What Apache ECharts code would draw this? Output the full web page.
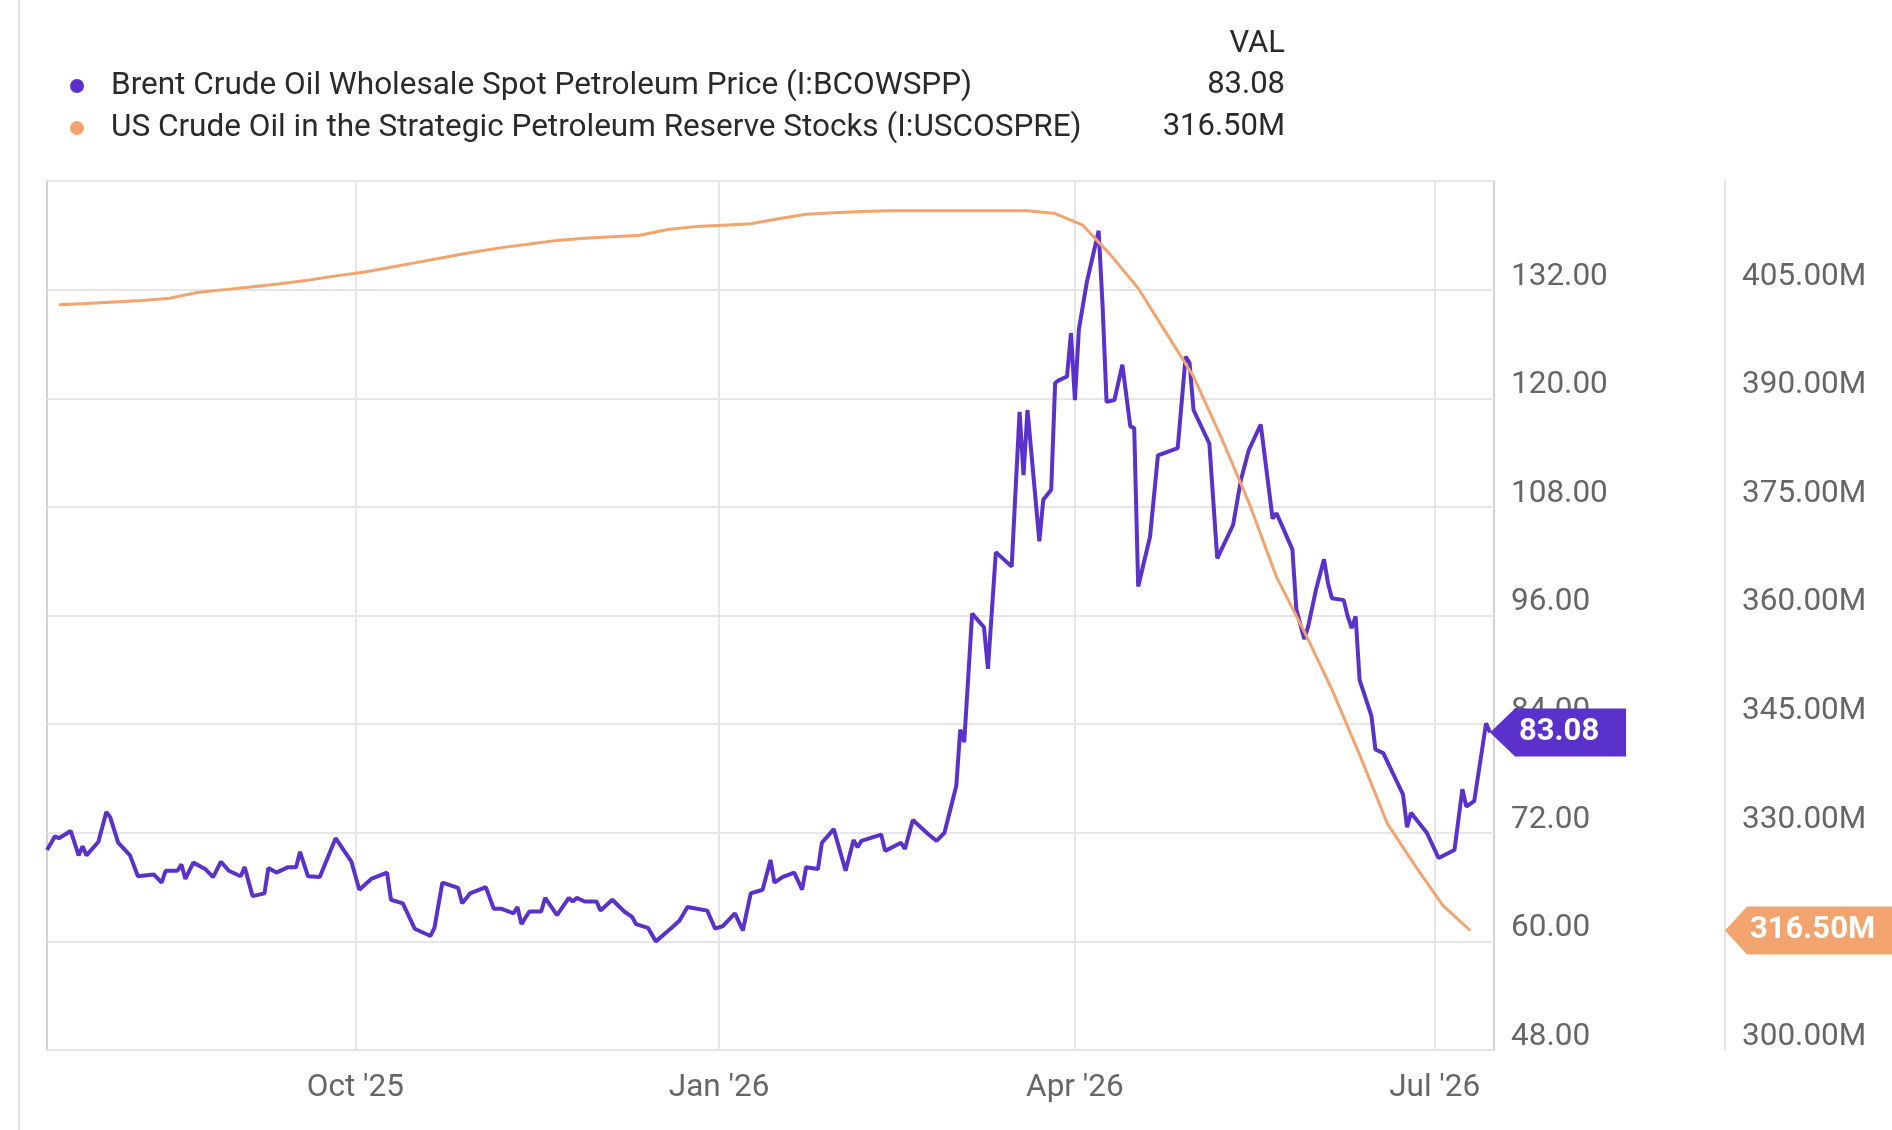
<!DOCTYPE html>
<html>
<head>
<meta charset="utf-8">
<title>Brent vs SPR</title>
<script src="https://cdn.jsdelivr.net/npm/echarts@6/dist/echarts.min.js"></script>
<style>
  html, body { margin: 0; padding: 0; background: #fff; }
  #chart { width: 1892px; height: 1130px; }
</style>
</head>
<body>
<div id="chart"></div>
<script>
// Brent daily spot price (USD)
var brentDates = [
  '2025-07-15', '2025-07-17', '2025-07-18', '2025-07-21', '2025-07-23', '2025-07-24', '2025-07-25', '2025-07-28',
  '2025-07-30', '2025-07-31', '2025-08-02', '2025-08-05', '2025-08-07', '2025-08-11', '2025-08-13', '2025-08-14',
  '2025-08-17', '2025-08-18', '2025-08-19', '2025-08-21', '2025-08-24', '2025-08-26', '2025-08-28', '2025-08-30',
  '2025-09-02', '2025-09-03', '2025-09-05', '2025-09-08', '2025-09-09', '2025-09-11', '2025-09-14', '2025-09-16',
  '2025-09-17', '2025-09-19', '2025-09-22', '2025-09-26', '2025-09-30', '2025-10-02', '2025-10-05', '2025-10-09',
  '2025-10-10', '2025-10-13', '2025-10-16', '2025-10-20', '2025-10-21', '2025-10-23', '2025-10-27', '2025-10-28',
  '2025-10-30', '2025-11-03', '2025-11-05', '2025-11-07', '2025-11-10', '2025-11-11', '2025-11-12', '2025-11-14',
  '2025-11-17', '2025-11-18', '2025-11-21', '2025-11-24', '2025-11-25', '2025-11-26', '2025-11-28', '2025-12-01',
  '2025-12-02', '2025-12-05', '2025-12-08', '2025-12-10', '2025-12-11', '2025-12-14', '2025-12-16', '2025-12-20',
  '2025-12-22', '2025-12-24', '2025-12-29', '2025-12-31', '2026-01-02', '2026-01-05', '2026-01-07', '2026-01-09',
  '2026-01-12', '2026-01-14', '2026-01-15', '2026-01-17', '2026-01-20', '2026-01-22', '2026-01-23', '2026-01-26',
  '2026-01-27', '2026-01-30', '2026-02-02', '2026-02-04', '2026-02-05', '2026-02-06', '2026-02-11', '2026-02-12',
  '2026-02-16', '2026-02-17', '2026-02-19', '2026-02-23', '2026-02-25', '2026-02-27', '2026-03-02', '2026-03-03',
  '2026-03-04', '2026-03-06', '2026-03-09', '2026-03-10', '2026-03-12', '2026-03-16', '2026-03-18', '2026-03-19',
  '2026-03-20', '2026-03-23', '2026-03-24', '2026-03-26', '2026-03-27', '2026-03-28', '2026-03-30', '2026-03-31',
  '2026-04-01', '2026-04-02', '2026-04-04', '2026-04-07', '2026-04-08', '2026-04-09', '2026-04-11', '2026-04-13',
  '2026-04-15', '2026-04-16', '2026-04-17', '2026-04-20', '2026-04-22', '2026-04-27', '2026-04-29', '2026-04-30',
  '2026-05-01', '2026-05-05', '2026-05-07', '2026-05-11', '2026-05-13', '2026-05-15', '2026-05-18', '2026-05-21',
  '2026-05-22', '2026-05-26', '2026-05-27', '2026-05-29', '2026-05-30', '2026-06-01', '2026-06-03', '2026-06-04',
  '2026-06-05', '2026-06-08', '2026-06-09', '2026-06-10', '2026-06-11', '2026-06-12', '2026-06-15', '2026-06-16',
  '2026-06-18', '2026-06-23', '2026-06-24', '2026-06-25', '2026-06-29', '2026-07-02', '2026-07-06', '2026-07-08',
  '2026-07-09', '2026-07-11', '2026-07-14', '2026-07-15'
];
var brentValues = [
  70.1, 71.6, 71.4, 72.2, 69.5, 70.5, 69.5, 71.0,
  74.3, 73.7, 70.9, 69.5, 67.2, 67.4, 66.5, 67.8,
  67.8, 68.5, 66.9, 68.7, 68.0, 67.1, 68.8, 67.8,
  67.2, 68.2, 65.0, 65.3, 68.1, 67.6, 68.2, 68.2,
  69.9, 67.2, 67.1, 71.4, 68.8, 65.7, 66.9, 67.6,
  64.6, 64.2, 61.4, 60.6, 61.5, 66.5, 65.9, 64.2,
  65.3, 66.0, 63.6, 63.6, 63.1, 63.8, 61.9, 63.3,
  63.3, 64.8, 62.9, 64.8, 64.4, 64.8, 64.4, 64.4,
  63.4, 64.6, 63.3, 62.7, 61.9, 61.5, 60.0, 61.5,
  62.3, 63.8, 63.4, 61.4, 61.7, 63.1, 61.2, 65.3,
  65.7, 69.0, 66.5, 67.1, 67.6, 65.7, 68.2, 68.0,
  70.9, 72.4, 67.8, 71.2, 70.4, 71.1, 71.8, 70.0,
  70.9, 70.2, 73.4, 71.8, 71.1, 72.0, 77.2, 83.4,
  82.0, 96.2, 94.7, 90.1, 103.0, 101.4, 118.5, 111.5,
  118.7, 104.2, 108.8, 109.9, 121.7, 122.0, 122.4, 127.2,
  119.8, 127.6, 132.8, 138.5, 130.2, 119.6, 119.8, 123.7,
  116.9, 116.7, 99.2, 104.7, 113.7, 114.5, 124.6, 123.9,
  118.7, 115.0, 102.3, 106.0, 111.0, 114.3, 117.1, 106.7,
  107.3, 103.3, 96.7, 93.4, 94.8, 98.9, 102.2, 99.6,
  97.9, 97.7, 95.9, 94.6, 95.9, 88.9, 84.9, 81.2,
  80.8, 76.2, 72.6, 74.2, 72.0, 69.2, 70.1, 76.8,
  74.9, 75.5, 84.1, 83.08
];

// SPR stocks, weekly (million barrels)
var sprDates = [
  '2025-07-18', '2025-07-25', '2025-08-01', '2025-08-08', '2025-08-15', '2025-08-22', '2025-08-29', '2025-09-05',
  '2025-09-12', '2025-09-19', '2025-09-26', '2025-10-03', '2025-10-10', '2025-10-17', '2025-10-24', '2025-10-31',
  '2025-11-07', '2025-11-14', '2025-11-21', '2025-11-28', '2025-12-05', '2025-12-12', '2025-12-19', '2025-12-26',
  '2026-01-02', '2026-01-09', '2026-01-16', '2026-01-23', '2026-01-30', '2026-02-06', '2026-02-13', '2026-02-20',
  '2026-02-27', '2026-03-06', '2026-03-13', '2026-03-20', '2026-03-27', '2026-04-03', '2026-04-10', '2026-04-17',
  '2026-04-24', '2026-05-01', '2026-05-08', '2026-05-15', '2026-05-22', '2026-05-29', '2026-06-05', '2026-06-12',
  '2026-06-19', '2026-06-26', '2026-07-03', '2026-07-10'
];
var sprValues = [
  402.9, 403.1, 403.3, 403.5, 403.8, 404.6, 405.0, 405.4,
  405.8, 406.3, 406.9, 407.4, 408.1, 408.8, 409.5, 410.2,
  410.8, 411.3, 411.8, 412.1, 412.3, 412.5, 413.3, 413.7,
  413.9, 414.1, 414.8, 415.4, 415.6, 415.8, 415.9, 415.9,
  415.9, 415.9, 415.9, 415.9, 415.5, 413.9, 409.8, 405.2,
  399.1, 393.0, 384.6, 375.6, 365.3, 357.8, 349.8, 340.8,
  331.3, 325.5, 320.0, 316.5
];

var seriesNames = [
  'Brent Crude Oil Wholesale Spot Petroleum Price (I:BCOWSPP)',
  'US Crude Oil in the Strategic Petroleum Reserve Stocks (I:USCOSPRE)'
];
var monthTicks = ['2025-10-01', '2026-01-01', '2026-04-01', '2026-07-01'];
var monthNames = ['Jan', 'Feb', 'Mar', 'Apr', 'May', 'Jun', 'Jul', 'Aug', 'Sep', 'Oct', 'Nov', 'Dec'];

var purple = '#5a31cb';
var orange = '#f3a46e';
var font = 'Roboto';

function toTime(s) {
    var p = s.split('-');
    return Date.UTC(+p[0], +p[1] - 1, +p[2]);
}

function pairs(dates, values) {
    var out = [];
    for (var i = 0; i < dates.length; i++) {
        out.push([toTime(dates[i]), values[i]]);
    }
    return out;
}

var lastBrent = brentValues[brentValues.length - 1];
var lastSpr = sprValues[sprValues.length - 1];

var chart = echarts.init(document.getElementById('chart'));
var gridRight = 398;
var sprAxisOffset = 231;

var option = {
    backgroundColor: '#fff',
    animation: false,
    textStyle: { fontFamily: font },
    legend: {
        orient: 'vertical',
        left: 65,
        top: 64,
        itemWidth: 14,
        itemHeight: 14,
        itemGap: 8,
        icon: 'circle',
        selectedMode: false,
        textStyle: { fontFamily: font, fontSize: 31.5, color: '#2a2a2a', padding: [0, 0, 0, 22], lineHeight: 34 },
        data: seriesNames
    },
    grid: {
        left: 47,
        right: gridRight,
        top: 181,
        bottom: 80,
        show: true,
        borderColor: '#d3d3d3',
        borderWidth: 2
    },
    xAxis: {
        // dates as UTC timestamps on a plain value scale
        type: 'value',
        min: toTime('2025-07-15'),
        max: toTime('2026-07-16'),
        axisLine: { show: false },
        axisTick: { show: false, customValues: monthTicks.map(toTime) },
        splitLine: { show: true, lineStyle: { color: '#e6e6e6', width: 2 } },
        axisLabel: {
            customValues: monthTicks.map(toTime),
            margin: 22,
            fontFamily: font,
            fontSize: 31.5,
            color: '#666',
            formatter: function (v) {
                var d = new Date(v);
                return monthNames[d.getUTCMonth()] + " '" + String(d.getUTCFullYear()).slice(2);
            }
        }
    },
    yAxis: [
        {
            type: 'value',
            position: 'right',
            min: 48,
            max: 144,
            interval: 12,
            axisLine: { show: false },
            axisTick: { show: false },
            splitLine: { show: true, lineStyle: { color: '#e6e6e6', width: 2 } },
            axisLabel: {
                margin: 17,
                fontFamily: font,
                fontSize: 31.5,
                lineHeight: 26,
                color: '#666',
                verticalAlign: 'bottom',
                padding: [0, 0, 0, 0],
                showMaxLabel: false,
                formatter: function (v) { return v.toFixed(2); }
            }
        },
        {
            type: 'value',
            position: 'right',
            offset: sprAxisOffset,
            min: 300,
            max: 420,
            interval: 15,
            axisLine: { show: true, lineStyle: { color: '#e3e3e3', width: 2 } },
            axisTick: { show: false },
            splitLine: { show: false },
            axisLabel: {
                margin: 17,
                fontFamily: font,
                fontSize: 31.5,
                lineHeight: 26,
                color: '#666',
                verticalAlign: 'bottom',
                padding: [0, 0, 0, 0],
                showMaxLabel: false,
                formatter: function (v) { return v.toFixed(2) + 'M'; }
            }
        }
    ],
    series: [
        {
            name: seriesNames[0],
            type: 'line',
            yAxisIndex: 0,
            showSymbol: false,
            color: purple,
            lineStyle: { width: 4, color: purple },
            z: 3,
            data: pairs(brentDates, brentValues)
        },
        {
            name: seriesNames[1],
            type: 'line',
            yAxisIndex: 1,
            showSymbol: false,
            color: orange,
            lineStyle: { width: 3, color: orange },
            z: 4,
            data: pairs(sprDates, sprValues)
        }
    ]
};

chart.setOption(option);

// value column and end tags
var W = 1892;
var pX = chart.convertToPixel({ xAxisIndex: 0 }, toTime(brentDates[brentDates.length - 1]));
var pY = chart.convertToPixel({ yAxisIndex: 0 }, lastBrent);
var sX = W - gridRight + sprAxisOffset;
var sY = chart.convertToPixel({ yAxisIndex: 1 }, lastSpr);
var h = 24;
var valFont = '31px ' + font;

chart.setOption({
    graphic: [
        // page edge line
        { type: 'line', shape: { x1: 19, y1: 0, x2: 19, y2: 1130 }, style: { stroke: '#e4e4e4', lineWidth: 2 }, silent: true },
        { type: 'text', style: { text: 'VAL', x: 1285, y: 44, align: 'right', verticalAlign: 'middle', font: valFont, fill: '#2a2a2a' } },
        { type: 'text', style: { text: lastBrent.toFixed(2), x: 1285, y: 85, align: 'right', verticalAlign: 'middle', font: valFont, fill: '#2a2a2a' } },
        { type: 'text', style: { text: lastSpr.toFixed(2) + 'M', x: 1285, y: 127, align: 'right', verticalAlign: 'middle', font: valFont, fill: '#2a2a2a' } },
        {
            type: 'polygon', z: 100,
            shape: { points: [[pX, pY], [pX + 25, pY - h], [pX + 136, pY - h], [pX + 136, pY + h], [pX + 25, pY + h]] },
            style: { fill: purple }
        },
        { type: 'text', z: 101, style: { text: lastBrent.toFixed(2), x: pX + 29, y: pY, verticalAlign: 'middle', font: 'bold 31px ' + font, fill: '#fff' } },
        {
            type: 'polygon', z: 100,
            shape: { points: [[sX, sY], [sX + 22, sY - h], [W + 5, sY - h], [W + 5, sY + h], [sX + 22, sY + h]] },
            style: { fill: orange }
        },
        { type: 'text', z: 101, style: { text: lastSpr.toFixed(2) + 'M', x: sX + 25, y: sY, verticalAlign: 'middle', font: 'bold 31px ' + font, fill: '#fff' } }
    ]
});
</script>
</body>
</html>
